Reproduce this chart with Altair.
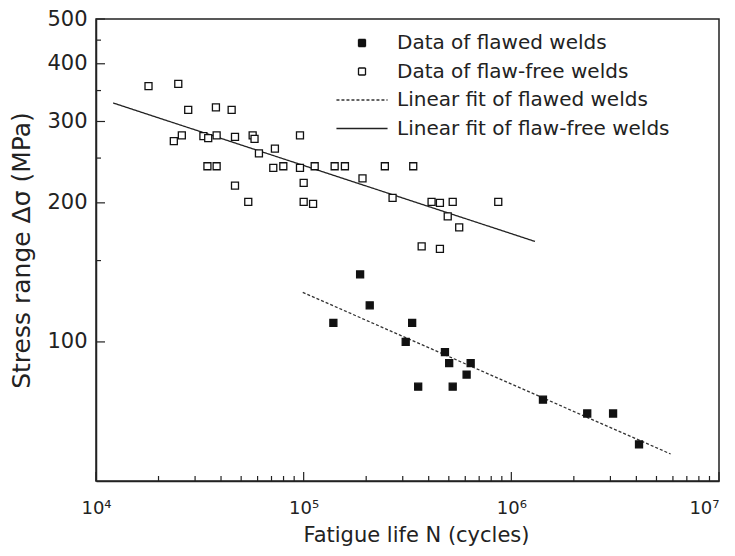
import altair as alt
import pandas as pd

SERIES = [
    "Data of flawed welds",
    "Data of flaw-free welds",
    "Linear fit of flawed welds",
    "Linear fit of flaw-free welds",
]

# Data of flawed welds (filled squares)
flawed_N = [1.87e5, 2.08e5, 1.39e5, 3.33e5, 3.10e5, 4.79e5, 5.02e5, 6.37e5,
            6.09e5, 3.56e5, 5.22e5, 1.42e6, 2.32e6, 3.09e6, 4.12e6]
flawed_S = [140, 120, 110, 110, 100, 95, 90, 90, 85, 80, 80, 75, 70, 70, 60]

# Data of flaw-free welds (hollow squares)
free_N = [1.79e4, 2.49e4, 2.78e4, 3.78e4, 4.50e4, 2.59e4, 2.37e4, 3.29e4,
          3.47e4, 3.81e4, 4.67e4, 5.68e4, 5.80e4, 6.09e4, 7.27e4, 9.60e4,
          3.44e4, 3.81e4, 4.67e4, 5.41e4, 7.14e4, 7.98e4, 9.60e4, 1.00e5,
          1.00e5, 1.11e5, 1.13e5, 1.41e5, 1.58e5, 1.92e5, 2.46e5, 3.37e5,
          2.68e5, 4.13e5, 4.53e5, 5.22e5, 4.94e5, 5.61e5, 8.65e5, 3.70e5,
          4.53e5]
free_S = [358, 362, 318, 322, 318, 280, 272, 279,
          276, 280, 278, 280, 275, 256, 262, 280,
          240, 240, 218, 201, 238, 240, 238, 221,
          201, 199, 240, 240, 240, 226, 240, 240,
          205, 201, 200, 201, 187, 177, 201, 161,
          159]

# Linear fits (end points)
fit_flawed_N = [9.9e4, 5.85e6]
fit_flawed_S = [128, 57.2]
fit_free_N = [1.21e4, 1.3e6]
fit_free_S = [329, 165]

# Axis ticks
x_major = [1e4, 1e5, 1e6, 1e7]
x_minor = [2e4, 3e4, 4e4, 5e4, 6e4, 7e4, 8e4, 9e4,
           2e5, 3e5, 4e5, 5e5, 6e5, 7e5, 8e5, 9e5,
           2e6, 3e6, 4e6, 5e6, 6e6, 7e6, 8e6, 9e6]
y_major = [100, 200, 300, 400, 500]
y_minor = [150, 250, 350, 450]

points = pd.DataFrame({
    "series": [SERIES[0]] * len(flawed_N) + [SERIES[1]] * len(free_N),
    "N": flawed_N + free_N,
    "S": flawed_S + free_S,
})
lines = pd.DataFrame({
    "series": [SERIES[2]] * 2 + [SERIES[3]] * 2,
    "N": fit_flawed_N + fit_free_N,
    "S": fit_flawed_S + fit_free_S,
})

W, H = 623, 462
FONT = "DejaVu Sans"
INK = "#222"
LINE_SYM = "M-7.3,0H7.3"

legend = alt.Legend(
    title=None, orient="none", legendX=256, legendY=14,
    labelFont=FONT, labelFontSize=20, labelColor=INK, labelOffset=25,
    labelLimit=400, rowPadding=8.5, padding=0, symbolSize=49,
    symbolOpacity=1,
)

shape_scale = alt.Scale(domain=SERIES, range=["square", "square", LINE_SYM, LINE_SYM])
fill_scale = alt.Scale(domain=SERIES, range=["#111", "white", "transparent", "transparent"])
stroke_scale = alt.Scale(domain=SERIES, range=["#111", "#111", "#333", "#222"])
width_scale = alt.Scale(domain=SERIES, range=[1.3, 1.3, 1.5, 1.4])
dash_scale = alt.Scale(domain=SERIES, range=[[1, 0], [1, 0], [3, 2], [1, 0]])

sup = "['\u2070','\u00b9','\u00b2','\u00b3','\u2074','\u2075','\u2076','\u2077','\u2078','\u2079']"

x_scale = alt.Scale(type="log", domain=[1e4, 1e7], nice=False)
y_scale = alt.Scale(type="log", domain=[50, 500], nice=False)

x_enc = alt.X(
    "N:Q", scale=x_scale,
    axis=alt.Axis(
        values=x_major, grid=False, ticks=False, labelFlush=False, labelOverlap=False,
        labelExpr=f"'10' + {sup}[round(log(datum.value)/LN10)]",
        labelAlign={"condition": {"test": "datum.value >= 9e6", "value": "right"},
                    "value": "center"},
        labelPadding=18, title="Fatigue life N (cycles)", titlePadding=7,
        titleX=320,
    ),
)
y_enc = alt.Y(
    "S:Q", scale=y_scale,
    axis=alt.Axis(
        values=y_major, grid=False, ticks=False, labelFlush=False, labelOverlap=False,
        labelPadding=9, title="Stress range \u0394\u03c3 (MPa)", titlePadding=12,
    ),
)

common = dict(
    stroke=alt.Stroke("series:N", scale=stroke_scale, legend=legend),
    strokeWidth=alt.StrokeWidth("series:N", scale=width_scale, legend=legend),
)

pts = alt.Chart(points).mark_point(
    filled=True, size=49, opacity=1
).encode(
    x=x_enc, y=y_enc,
    shape=alt.Shape("series:N", scale=shape_scale, legend=legend),
    fill=alt.Fill("series:N", scale=fill_scale, legend=legend),
    **common,
)

fits = alt.Chart(lines).mark_line().encode(
    x=x_enc, y=y_enc,
    strokeDash=alt.StrokeDash("series:N", scale=dash_scale, legend=legend),
    **common,
)

# inward tick marks
def xticks(vals, length):
    return alt.Chart(pd.DataFrame({"N": vals})).mark_rule(
        color=INK, strokeWidth=1.2
    ).encode(x=x_enc, y=alt.value(H), y2=alt.value(H - length))

def yticks(vals, length):
    return alt.Chart(pd.DataFrame({"S": vals})).mark_rule(
        color=INK, strokeWidth=1.2
    ).encode(y=y_enc, x=alt.value(0), x2=alt.value(length))

chart = alt.layer(
    fits, pts,
    xticks(x_major, 9), xticks(x_minor, 5),
    yticks(y_major, 9), yticks(y_minor, 5),
).properties(
    width=W, height=H,
    autosize=alt.AutoSizeParams(type="none"),
    padding={"left": 88, "top": 11, "right": 8, "bottom": 67},
).configure_view(
    stroke=INK, strokeWidth=1.5,
).configure_axis(
    labelFont=FONT, labelColor=INK,
    titleFont=FONT, titleFontWeight="normal", titleColor=INK,
    domainColor=INK, domainWidth=1.5,
).configure_axisX(
    labelFontSize=18, titleFontSize=21,
).configure_axisY(
    labelFontSize=21, titleFontSize=25,
)

chart.save("out.html", embed_options={"renderer": "svg", "actions": False})
